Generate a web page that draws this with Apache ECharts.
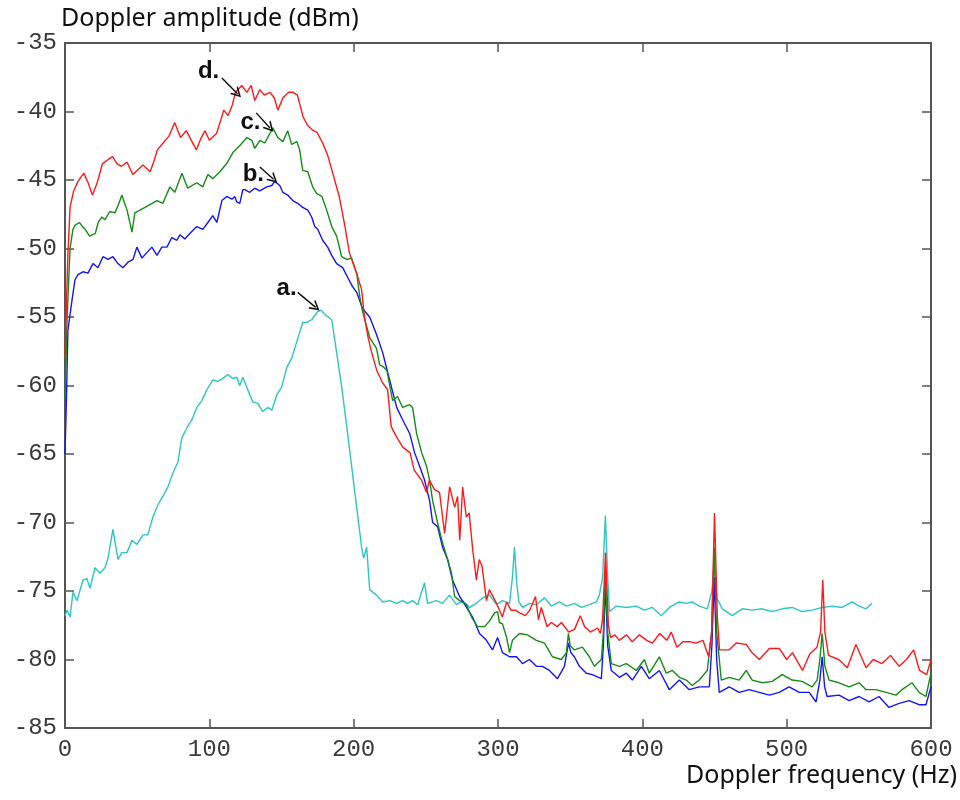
<!DOCTYPE html>
<html>
<head>
<meta charset="utf-8">
<style>html,body{margin:0;padding:0;background:#fff}#chart{width:960px;height:800px}</style>
<script src="https://cdn.jsdelivr.net/npm/echarts@6/dist/echarts.min.js"></script>
</head>
<body>
<div id="chart"></div>
<script>
// Doppler spectrum curves: [frequency (Hz), amplitude (dBm)]
const curveA = [[0,-76.8],[1.4,-76.4],[3.5,-76.9],[5.5,-75.1],[8.3,-75.7],[12.5,-74.2],[15.2,-74.1],[17.3,-74.8],[20.8,-73.3],[24.2,-73.7],[27.7,-73.3],[29.8,-72.6],[33.2,-70.5],[36.7,-72.7],[39.4,-72.2],[42.9,-72.2],[46.4,-71.3],[49.8,-71.6],[54,-70.9],[57.4,-70.9],[60.9,-69.6],[64.4,-68.7],[67.8,-68.1],[71.3,-67.4],[74.7,-66.4],[78.2,-65.6],[81,-63.8],[84.4,-63.1],[87.9,-62.5],[91.3,-61.6],[94.8,-61.1],[98.3,-60.3],[102.4,-59.6],[105.9,-59.7],[109.3,-59.5],[112.8,-59.2],[116.3,-59.5],[119,-59.4],[121.1,-60],[123.2,-59.4],[126.6,-60.3],[130.1,-61.2],[133.6,-61.3],[137,-61.9],[140.5,-61.6],[143.3,-61.8],[146.7,-60.7],[150.2,-60.1],[153.6,-58.7],[157.1,-58],[160.6,-56.8],[164.7,-55.4],[167.5,-55.4],[170.9,-55.2],[175.1,-54.6],[177.5,-54.5],[179.9,-54.8],[184.8,-55.2],[188.2,-57.6],[191.7,-60.1],[195.2,-63],[198.6,-65.9],[202.1,-68.9],[205.5,-71.8],[206.9,-72.6],[209,-71.8],[211.1,-74.9],[215.9,-75.3],[220.1,-75.8],[224.9,-75.7],[229.8,-75.9],[233.9,-75.7],[237.4,-75.9],[240.8,-75.7],[244.3,-76],[249.1,-74.4],[251.2,-75.9],[257.4,-75.7],[261.6,-75.9],[266.4,-75.3],[271.3,-76],[275.4,-75.7],[280.3,-76.2],[285.1,-75.9],[289.3,-75.5],[294.1,-75.3],[299,-76],[303.1,-75.7],[308,-75.9],[310,-74],[311.4,-71.8],[313,-74.5],[314.5,-75.8],[317,-76.2],[321.8,-75.9],[326.6,-76],[332.2,-75.5],[337,-76.1],[342.6,-75.8],[347.4,-76.1],[352.9,-75.9],[357.8,-76.2],[363.3,-76],[368.2,-75.8],[370.2,-75.3],[372.5,-74],[374.4,-69.5],[376,-74],[377.2,-76.5],[382,-76.1],[388.9,-76.2],[395.8,-76.1],[401.4,-76.4],[406.9,-76.2],[413.1,-76.8],[418.7,-76.2],[425.6,-75.8],[430.4,-75.9],[434.6,-75.8],[439.4,-76.1],[445,-76.3],[448.2,-75],[449.8,-73],[451.5,-75.5],[455.4,-76.3],[462.3,-76.8],[469.2,-76.3],[476.1,-76.4],[483,-76.3],[490,-76.5],[496.9,-76.3],[503.8,-76.2],[510.7,-76.5],[517.6,-76.4],[524.6,-76.2],[531.5,-76.1],[538.4,-76.2],[545.3,-75.8],[550.2,-76.1],[555,-76.3],[559.2,-75.9]];

const curveB = [[0,-65],[1,-61],[2,-56],[4.8,-53.8],[6.9,-52.3],[9,-51.9],[12.5,-51.7],[15.9,-51.8],[19.4,-51.1],[22.8,-51.4],[26.3,-50.6],[29.8,-50.8],[33.2,-50.6],[36.7,-51.1],[40.1,-51.4],[43.6,-51],[47.1,-50.8],[49.8,-49.9],[53.3,-50.7],[56.7,-50.3],[60.2,-49.9],[63.7,-50.5],[67.1,-49.9],[70.6,-49.9],[74,-49.2],[77.5,-49.4],[79.6,-49],[83,-49.3],[86.5,-48.9],[91.3,-48.4],[95.5,-48.6],[99,-48.1],[102.4,-47.6],[105.2,-48.1],[108.7,-46.5],[112.1,-46.2],[115.6,-46.4],[117.6,-46.2],[119,-46.6],[121.1,-46.7],[123.2,-45.7],[124.6,-45.7],[128,-45.9],[131.5,-45.6],[134.9,-45.8],[139.8,-45.5],[143.3,-45.4],[145.3,-45.1],[148.8,-45.4],[150.9,-45.9],[154.3,-46.1],[157.8,-46.5],[161.2,-46.7],[164.7,-47],[168.2,-47.2],[170.9,-47.7],[173,-48.4],[175.1,-48.6],[178.5,-49.4],[182,-49.9],[184.8,-50.5],[188.2,-51.1],[192.4,-51.4],[195.8,-52.1],[199.3,-52.8],[202.1,-53.2],[206.2,-54.4],[211.1,-55],[215.9,-56.3],[220.1,-57.6],[224.9,-59.6],[229.8,-61.6],[233.9,-62.5],[238.8,-63.5],[242.2,-64.9],[245.7,-65.9],[249.1,-66.9],[252.6,-68.4],[254.7,-70],[258.1,-70.3],[261.6,-71.8],[265.1,-72.7],[268.5,-74.2],[273.4,-75.4],[278.2,-76.2],[282.4,-76.9],[287.2,-78.1],[292,-78.6],[296.2,-79.3],[299.7,-78.4],[303.1,-79.5],[308,-79.8],[312.8,-79.8],[317,-80.3],[321.8,-80],[326.6,-80.5],[330.8,-80.5],[335.6,-80.8],[341.2,-81.4],[346,-80.5],[348.8,-78.8],[350.5,-79.5],[352.9,-79.8],[356.4,-80.5],[361.2,-81],[365.4,-81.1],[371.6,-81.4],[373,-79],[374.4,-74.4],[376,-79],[378.5,-80.8],[384.1,-81.3],[388.9,-81],[393.1,-81.5],[399.3,-80.5],[404.8,-81.4],[411.8,-80.8],[418.7,-82.2],[425.6,-81.5],[432.5,-82.2],[439.4,-82],[446.4,-82],[448.2,-79],[449.8,-74],[451.5,-80],[453.3,-82.4],[460.2,-82],[467.1,-82.4],[474,-82.2],[481,-82.4],[487.9,-82.6],[494.8,-82.4],[501.7,-82],[508.7,-82.4],[515.6,-82.4],[520.4,-83.1],[523,-81.5],[524.6,-79.8],[526.3,-82],[528,-82.7],[536.3,-82.6],[543.3,-83],[550.2,-82.7],[557.1,-83.1],[564,-82.7],[570.9,-83.5],[577.9,-83.2],[584.8,-83],[591.7,-83.3],[596.5,-83.3],[600,-82]];

const curveC = [[0,-61],[1,-57],[1.5,-55],[3.5,-50],[5.5,-48.6],[7,-48.3],[10,-48.1],[12,-48.4],[14,-48.6],[17,-49.1],[21,-48.9],[23,-48.1],[25.6,-47.7],[27.7,-47.9],[31,-47.3],[34.6,-47.4],[37,-46.8],[39.4,-46.1],[41,-46.6],[43,-47.2],[46.4,-48.8],[48.4,-47.4],[52,-47.2],[55.4,-47],[58.8,-46.8],[63.7,-46.5],[67.8,-46.7],[72.7,-45.5],[76.1,-45.9],[81,-44.5],[85,-45.6],[91.3,-45.2],[95.5,-45.5],[99,-44.6],[102.4,-44.9],[107.3,-44.4],[112,-43.8],[116.3,-43],[121,-42.5],[126,-41.9],[129.4,-42.1],[131.5,-42.7],[135,-42.1],[138.4,-42.3],[142,-41.6],[144,-41.2],[147.4,-41.9],[151,-42.2],[154.3,-41.4],[157,-42.4],[160.6,-42.2],[162.6,-42.8],[164.7,-44.3],[168.2,-44.4],[171.6,-45.5],[174.4,-46],[178,-46.2],[181.3,-47.2],[184.8,-48.4],[188.2,-49.1],[191.7,-50.6],[195.2,-50.8],[198.6,-50.7],[200.7,-51.4],[202.1,-51.8],[204.2,-53.5],[206.2,-54.6],[211.1,-56.5],[215.9,-57.3],[218,-58.5],[220.1,-58.6],[223,-58.9],[227,-61.1],[230.4,-60.8],[233.9,-61.6],[238.8,-61.4],[240.8,-61.6],[243.6,-63.5],[247.1,-64.9],[250.5,-65.9],[252.6,-66.9],[254.7,-68.4],[258.1,-70],[261.6,-71.5],[265.1,-72.7],[267.8,-73.7],[269.9,-75.4],[273.4,-75.7],[278.2,-76],[281.7,-76.9],[285.8,-77.6],[290.7,-77.6],[294.1,-77.2],[297.6,-76.6],[299.7,-76.5],[301,-77.3],[303.1,-77.4],[306,-78.4],[308,-79.5],[310,-78.6],[314.9,-78.1],[320.4,-78.2],[326.6,-78.6],[332.2,-78.8],[337.7,-79.8],[343.9,-80],[347.4,-79.5],[348.8,-78.1],[350,-79],[352.9,-79.3],[358.5,-79.1],[363.3,-79.8],[366.8,-80.5],[371.6,-80],[373,-78],[374.4,-73.5],[376,-78],[378.5,-80.3],[384.1,-80.5],[388.9,-80.3],[395.8,-80.8],[401.4,-80],[404.8,-81],[411.8,-79.8],[416.6,-81],[420.8,-80.8],[425.6,-81.3],[430.4,-81.5],[434.6,-81.9],[439.4,-81.5],[445,-80.8],[448,-78],[449.8,-71.8],[451.5,-78],[454.7,-81.5],[460.2,-81.3],[467.1,-81.5],[472,-80.8],[476.1,-81.5],[483,-81.7],[490,-81.6],[496.9,-81.1],[503.8,-81.5],[510.7,-81.6],[517.6,-82],[521.1,-81.5],[523,-80],[524.6,-78.1],[526.5,-80.5],[529.4,-81.5],[536.3,-81.7],[543.3,-82],[550.2,-81.7],[555,-82.2],[561.9,-82.2],[568.9,-82.4],[575.8,-82.6],[579.9,-82.2],[586.9,-81.7],[591.7,-82.4],[596.5,-82.7],[600,-81]];

const curveD = [[0,-58],[1,-54],[2,-50.5],[3.5,-47],[6,-45.8],[9,-45.1],[13,-44.5],[16,-45.2],[19,-46.1],[22,-45.3],[26,-43.8],[30,-43.5],[33,-43.3],[36,-43.8],[39,-44],[43,-43.7],[47,-44.6],[50,-44.3],[54,-43.9],[59,-44.4],[62,-43.5],[64,-42.8],[68,-42.3],[72,-41.8],[76,-40.8],[80,-41.9],[84,-41.4],[88,-42.2],[91,-42.8],[94,-42],[97,-41.4],[100,-42.1],[105,-41.6],[108,-40.6],[110,-39.9],[113,-40.3],[116,-39.5],[118,-38.6],[120,-38.4],[122.5,-38.1],[126,-38.6],[129,-38.1],[131.5,-39.2],[135,-38.4],[138,-38.8],[142,-38.6],[145,-39],[147.5,-39.9],[151,-39],[155,-38.6],[158,-38.6],[161,-38.8],[165,-40.4],[168,-41],[172,-41.4],[174.5,-41.5],[178.5,-42.3],[182,-43.2],[185.5,-44.5],[190,-46.2],[194,-48.4],[197,-50.3],[202,-51.8],[205.5,-53],[207.5,-55],[210,-56.5],[212.5,-57.6],[216,-58.9],[220,-59.8],[223.5,-60.3],[226,-63],[230,-63.8],[234,-64.5],[239,-64.9],[242,-66.2],[247,-66.9],[250.5,-67.8],[252.5,-66.9],[256,-67.6],[259.5,-67.8],[263,-70.8],[266.5,-67.4],[270,-68.9],[272,-68.1],[273.5,-71.3],[275.5,-67.4],[278,-69.6],[280,-69.3],[282.5,-72],[285,-74.2],[287,-72.7],[289,-73.2],[292,-75.7],[294,-74.9],[299,-75.9],[303,-76.9],[306,-75.8],[309,-76.4],[312,-76.4],[315,-76.6],[319,-76.8],[322,-76.4],[326,-75.4],[328,-77.1],[330,-76.2],[334,-77.6],[337,-77.3],[341,-77.6],[344,-77.3],[349,-78],[353,-77.8],[357,-76.8],[360,-77.6],[364,-78],[369,-77.7],[371,-78.1],[372.5,-77],[374.5,-72.2],[376.5,-77.5],[378,-78.4],[381,-78.2],[384,-78.6],[389,-78.2],[393,-78.7],[398,-78.2],[403,-78.6],[407,-78.8],[412,-78.1],[417,-78.6],[420,-78],[424,-79.1],[428,-78.7],[433,-78.7],[437,-78.8],[442,-78.6],[446,-79.8],[448,-78],[450,-69.3],[452,-77],[453.5,-79.3],[460,-79.3],[465,-78.8],[472,-78.9],[476,-79.5],[481,-80],[488,-79.2],[495,-79.2],[500,-80],[504,-79.5],[511,-80.8],[516,-79.6],[521,-79.1],[523.5,-78],[525,-74.2],[526.5,-78],[529,-79.7],[536,-80],[542,-80.6],[548,-78.9],[555,-80.6],[560,-80],[566,-80.3],[572,-79.7],[578,-80.5],[583,-80],[588,-79.3],[592,-80.8],[597,-81.1],[600,-80]];

// Curve labels with arrows: text position, arrow start, arrow end (data units)
const annotations = [
  {text: 'd.', at: [99.5, -37.1], from: [108.7, -37.55], to: [119.5, -38.7]},
  {text: 'c.', at: [128.5, -40.8], from: [132.5, -40.1], to: [142, -41.2]},
  {text: 'b.', at: [130.5, -44.6], from: [135, -44.05], to: [144.5, -44.95]},
  {text: 'a.', at: [153.5, -52.9], from: [161.2, -53.2], to: [173.7, -54.3]}
];

const xTicks = {min: 0, max: 600, interval: 100};
const yTicks = {min: -85, max: -35, interval: 5};

const chart = echarts.init(document.getElementById('chart'), null, {renderer: 'canvas'});
const axisColor = '#555';
const tickFont = {fontFamily: 'Liberation Mono', fontSize: 24, color: '#3a3a3a'};
const openArrow = 'path://M5,0 L10,10 L8.4,10 L5,3.2 L1.6,10 L0,10 Z';

function lineSeries(data, color) {
  return {type: 'line', data: data, showSymbol: false, symbol: 'none', animation: false,
    lineStyle: {color: color, width: 1.4}, itemStyle: {color: color}};
}

const series = [
  lineSeries(curveA, '#2cc6c6'),
  lineSeries(curveB, '#1414ff'),
  lineSeries(curveC, '#158c15'),
  lineSeries(curveD, '#ff1a1a'),
  {
    type: 'line', data: [], silent: true, animation: false,
    markLine: {
      silent: true, animation: false, symbol: ['none', openArrow], symbolSize: [11, 10],
      lineStyle: {color: '#111', width: 1.4, type: 'solid'}, label: {show: false},
      data: annotations.map(a => [{coord: a.from}, {coord: a.to}])
    },
    markPoint: {
      silent: true, animation: false, symbol: 'circle', symbolSize: 0,
      label: {show: true, position: 'inside', color: '#111', fontFamily: 'Liberation Sans', fontWeight: 'bold', fontSize: 24,
        formatter: p => p.name},
      data: annotations.map(a => ({name: a.text, coord: a.at}))
    }
  }
];

chart.setOption({
  animation: false,
  backgroundColor: '#fff',
  grid: {left: 65, right: 28, top: 43, bottom: 72, containLabel: false},
  xAxis: [
    {type: 'value', min: xTicks.min, max: xTicks.max, interval: xTicks.interval, position: 'bottom',
      name: 'Doppler frequency (Hz)', nameLocation: 'end', nameGap: 26,
      nameTextStyle: {fontFamily: 'Noto Sans', fontSize: 25, color: '#111', align: 'right', verticalAlign: 'top', padding: [35, 0, 0, 0]},
      axisLine: {show: true, onZero: false, lineStyle: {color: axisColor, width: 2}},
      axisTick: {show: true, inside: true, length: 9, lineStyle: {color: axisColor, width: 1.5}},
      axisLabel: Object.assign({margin: 10}, tickFont), splitLine: {show: false}},
    {type: 'value', min: xTicks.min, max: xTicks.max, interval: xTicks.interval, position: 'top',
      axisLine: {show: true, onZero: false, lineStyle: {color: axisColor, width: 2}},
      axisTick: {show: true, inside: true, length: 9, lineStyle: {color: axisColor, width: 1.5}},
      axisLabel: {show: false}, splitLine: {show: false}}
  ],
  yAxis: [
    {type: 'value', min: yTicks.min, max: yTicks.max, interval: yTicks.interval, position: 'left',
      name: 'Doppler amplitude (dBm)', nameLocation: 'end', nameGap: 9,
      nameTextStyle: {fontFamily: 'Noto Sans', fontSize: 25, color: '#111', align: 'left', verticalAlign: 'bottom', padding: [0, 0, 0, -4]},
      axisLine: {show: true, onZero: false, lineStyle: {color: axisColor, width: 2}},
      axisTick: {show: true, inside: true, length: 9, lineStyle: {color: axisColor, width: 1.5}},
      axisLabel: Object.assign({margin: 8}, tickFont), splitLine: {show: false}},
    {type: 'value', min: yTicks.min, max: yTicks.max, interval: yTicks.interval, position: 'right',
      axisLine: {show: true, onZero: false, lineStyle: {color: axisColor, width: 2}},
      axisTick: {show: true, inside: true, length: 9, lineStyle: {color: axisColor, width: 1.5}},
      axisLabel: {show: false}, splitLine: {show: false}}
  ],
  series: series
});
</script>
</body>
</html>
